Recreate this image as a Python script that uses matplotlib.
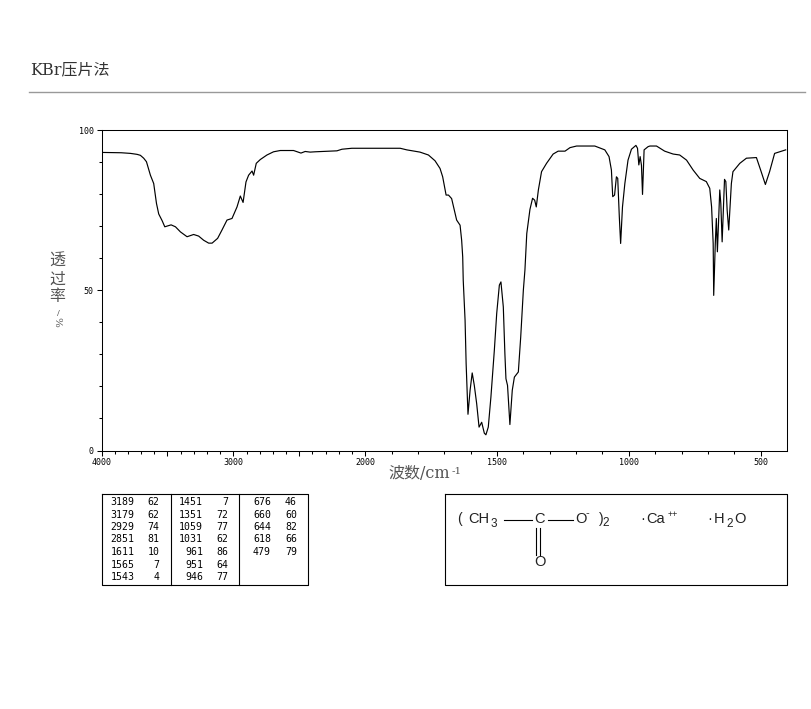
# -*- coding: utf-8 -*-
import numpy as np
import matplotlib
matplotlib.use('Agg')
import matplotlib.pyplot as plt

# spectrum
wavenumber = [3995, 3850, 3780, 3730, 3705, 3680, 3659, 3629, 3604, 3583, 3566, 3540, 3520, 3472, 3439, 3401,
              3351, 3301, 3263, 3225, 3187, 3161, 3119, 3086, 3048, 3010, 2972, 2947, 2926, 2904, 2884, 2858,
              2846, 2826, 2795, 2745, 2695, 2644, 2543, 2487, 2455, 2417, 2379, 2214, 2176, 2101, 1867, 1842,
              1792, 1760, 1735, 1716, 1706, 1693, 1684, 1672, 1653, 1640, 1634, 1630,
              1628, 1621, 1617, 1611, 1610, 1602, 1594, 1586, 1577, 1568, 1558, 1548, 1542, 1533, 1523, 1510,
              1501, 1491, 1485, 1476, 1470, 1466, 1460, 1451, 1442, 1434, 1419, 1410, 1400, 1394, 1387,
              1375, 1365, 1357, 1351, 1343, 1331, 1312, 1287, 1268, 1242, 1223, 1198, 1129, 1091, 1075, 1066,
              1061, 1054, 1047, 1042, 1036, 1031, 1024, 1015, 1003, 990, 973, 967, 962, 957, 952, 948, 942, 927,
              920, 895, 864, 832, 807, 781, 756, 731, 706, 693, 686, 680, 678, 672, 668, 664, 655, 651, 646,
              637, 632, 627, 621, 611, 605, 579, 554, 516, 500, 482, 466, 447, 405]
transmittance = [93.0, 92.9, 92.7, 92.4, 92.1, 91.2, 90.1, 85.9, 83.3, 77.1, 73.8, 71.7, 69.8, 70.4, 69.8, 68.2,
                 66.7, 67.4, 66.9, 65.6, 64.7, 64.7, 66.2, 68.8, 71.9, 72.4, 76.0, 79.4, 77.4, 83.8, 85.9, 87.2,
                 85.9, 89.6, 90.8, 92.2, 93.2, 93.6, 93.6, 92.8, 93.3, 93.1, 93.2, 93.5, 94.0, 94.3, 94.3, 93.8,
                 93.1, 92.2, 90.4, 88.0, 85.4, 79.7, 79.7, 78.6, 71.9, 70.3, 65.6, 60.4,
                 53.1, 40.6, 27.1, 14.1, 11.3, 18.8, 24.2, 20.3, 14.6, 7.3, 8.8, 5.4, 4.9, 7.3, 16.7, 31.3,
                 42.8, 51.6, 52.6, 44.8, 30.2, 22.4, 20.3, 8.1, 18.8, 22.9, 24.5, 35.4, 50.0, 56.3, 67.7,
                 75.2, 78.7, 78.1, 76.0, 81.3, 87.0, 89.6, 92.5, 93.4, 93.4, 94.5, 95.0, 95.0, 93.8, 91.7, 87.5,
                 79.2, 79.7, 85.4, 84.9, 72.9, 64.6, 76.0, 83.3, 90.6, 94.0, 95.2, 94.3, 89.1, 91.7, 89.0, 79.9, 93.8, 94.8,
                 95.0, 95.0, 93.4, 92.5, 92.2, 90.6, 87.5, 84.9, 83.9, 81.8, 76.0, 64.6, 48.4, 64.6, 72.4, 62.0, 81.3, 77.0, 65.1,
                 84.6, 83.9, 75.0, 68.8, 83.3, 87.0, 89.6, 91.2, 91.4, 87.5, 83.0, 87.0, 92.7, 93.8]

x_labelled = [4000, 3000, 2000, 1500, 1000, 500]
x_plain = [3500, 2500]
y_labelled = [0, 50, 100]

# peak table, three blocks
peak_wave_1 = [3189, 3179, 2929, 2851, 1611, 1565, 1543]
peak_perc_1 = [62, 62, 74, 81, 10, 7, 4]
peak_wave_2 = [1451, 1351, 1059, 1031, 961, 951, 946]
peak_perc_2 = [7, 72, 77, 62, 86, 64, 77]
peak_wave_3 = [676, 660, 644, 618, 479]
peak_perc_3 = [46, 60, 82, 66, 79]

SERIF = ['DejaVu Serif', 'Noto Sans CJK SC']
MONO = 'DejaVu Sans Mono'
GREY = '#555555'


# the wavenumber axis is stretched by two below 2000
def forward(w):
    w = np.asarray(w, dtype=float)
    return np.where(w >= 2000, w, 2 * w - 2000)


def inverse(p):
    p = np.asarray(p, dtype=float)
    return np.where(p >= 2000, p, (p + 2000) / 2)


fig = plt.figure(figsize=(8.11, 7.09), dpi=100)

# page layer in pixels, for the title, the boxes and the formula
page = fig.add_axes([0, 0, 1, 1])
page.set_xlim(0, 811)
page.set_ylim(709, 0)
page.axis('off')

ax = fig.add_axes([101.5 / 811, 1 - 450.5 / 709, 685.5 / 811, 320.5 / 709])
ax.set_xscale('function', functions=(forward, inverse))
ax.plot(wavenumber, transmittance, color='black', lw=0.85)
ax.set_xlim(4000, 400)
ax.set_ylim(0, 100)
ax.set_xticks(x_labelled + x_plain)
ax.set_xticklabels([str(i) for i in x_labelled] + ['' for i in x_plain])
ax.set_xticks(np.arange(500, 4000, 100), minor=True)
ax.set_yticks(y_labelled)
ax.set_yticks(np.arange(10, 100, 10), minor=True)
ax.tick_params(which='major', length=3.5, width=0.75, labelsize=6, pad=2)
ax.tick_params(which='minor', length=2, width=0.75)
for lab in ax.get_xticklabels() + ax.get_yticklabels():
    lab.set_family(MONO)
for s in ax.spines.values():
    s.set_linewidth(0.75)

# title and rule
page.text(30, 70, 'KBr压片法', family=SERIF, fontsize=11.5, color='#333333', va='center')
page.plot([29, 805], [91.5, 91.5], color='#999999', lw=1)

# axis titles
page.text(57, 261, '透', family=SERIF, fontsize=11.5, color=GREY, ha='center', va='center')
page.text(57, 279, '过', family=SERIF, fontsize=11.5, color=GREY, ha='center', va='center')
page.text(57, 297, '率', family=SERIF, fontsize=11.5, color=GREY, ha='center', va='center')
page.text(58, 312.5, '/', family=SERIF, fontsize=6, color=GREY, ha='center', va='center')
page.text(57, 322, '%', family=SERIF, fontsize=7.5, color=GREY, ha='center', va='center', rotation=-90)
page.text(388, 474, '波数/cm', family=SERIF, fontsize=11.5, color=GREY, va='center')
page.text(452, 471, '-1', family=SERIF, fontsize=7.5, color=GREY, va='center')

# peak table
page.plot([101.5, 307.5, 307.5, 101.5, 101.5], [493.5, 493.5, 585, 585, 493.5], color='black', lw=0.8)
page.plot([170.5, 170.5], [493.5, 585], color='black', lw=0.8)
page.plot([238.5, 238.5], [493.5, 585], color='black', lw=0.8)
row_y = np.linspace(502, 577, 7)
blocks = [(peak_wave_1, peak_perc_1, 134.5, 159.5),
          (peak_wave_2, peak_perc_2, 203, 228),
          (peak_wave_3, peak_perc_3, 271, 297)]
for waves, percs, x1, x2 in blocks:
    for i in range(len(waves)):
        page.text(x1, row_y[i], str(waves[i]), family=MONO, fontsize=7.1, ha='right', va='center')
        page.text(x2, row_y[i], str(percs[i]), family=MONO, fontsize=7.1, ha='right', va='center')

# structure box
page.plot([444.5, 786.5, 786.5, 444.5, 444.5], [493.5, 493.5, 585, 585, 493.5], color='black', lw=0.8)
formula = [(457, 518.5, '(', 10), (468, 519, 'CH', 10.5), (491, 524, '3', 8.5), (534, 519, 'C', 10.5),
           (575.5, 519, 'O', 10.5), (586, 513, '-', 8), (599, 518.5, ')', 10), (602, 523, '2', 8.5),
           (534.5, 562, 'O', 10.5), (640, 519, '·', 10.5), (646, 519, 'Ca', 10.5), (668, 514, '++', 6.5),
           (707, 519, '·', 10.5), (714, 519, 'H', 10.5), (726, 524, '2', 8.5), (734, 519, 'O', 10.5)]
for fx, fy, txt, fs in formula:
    page.text(fx, fy, txt, family='Liberation Sans', fontsize=fs, color='#222222', va='center')
page.plot([504, 532], [519.5, 519.5], color='black', lw=0.8)
page.plot([548, 573], [519.5, 519.5], color='black', lw=0.8)
page.plot([536, 536], [527.5, 555], color='black', lw=0.8)
page.plot([540, 540], [527.5, 555], color='black', lw=0.8)

plt.savefig('out.png', dpi=100)
